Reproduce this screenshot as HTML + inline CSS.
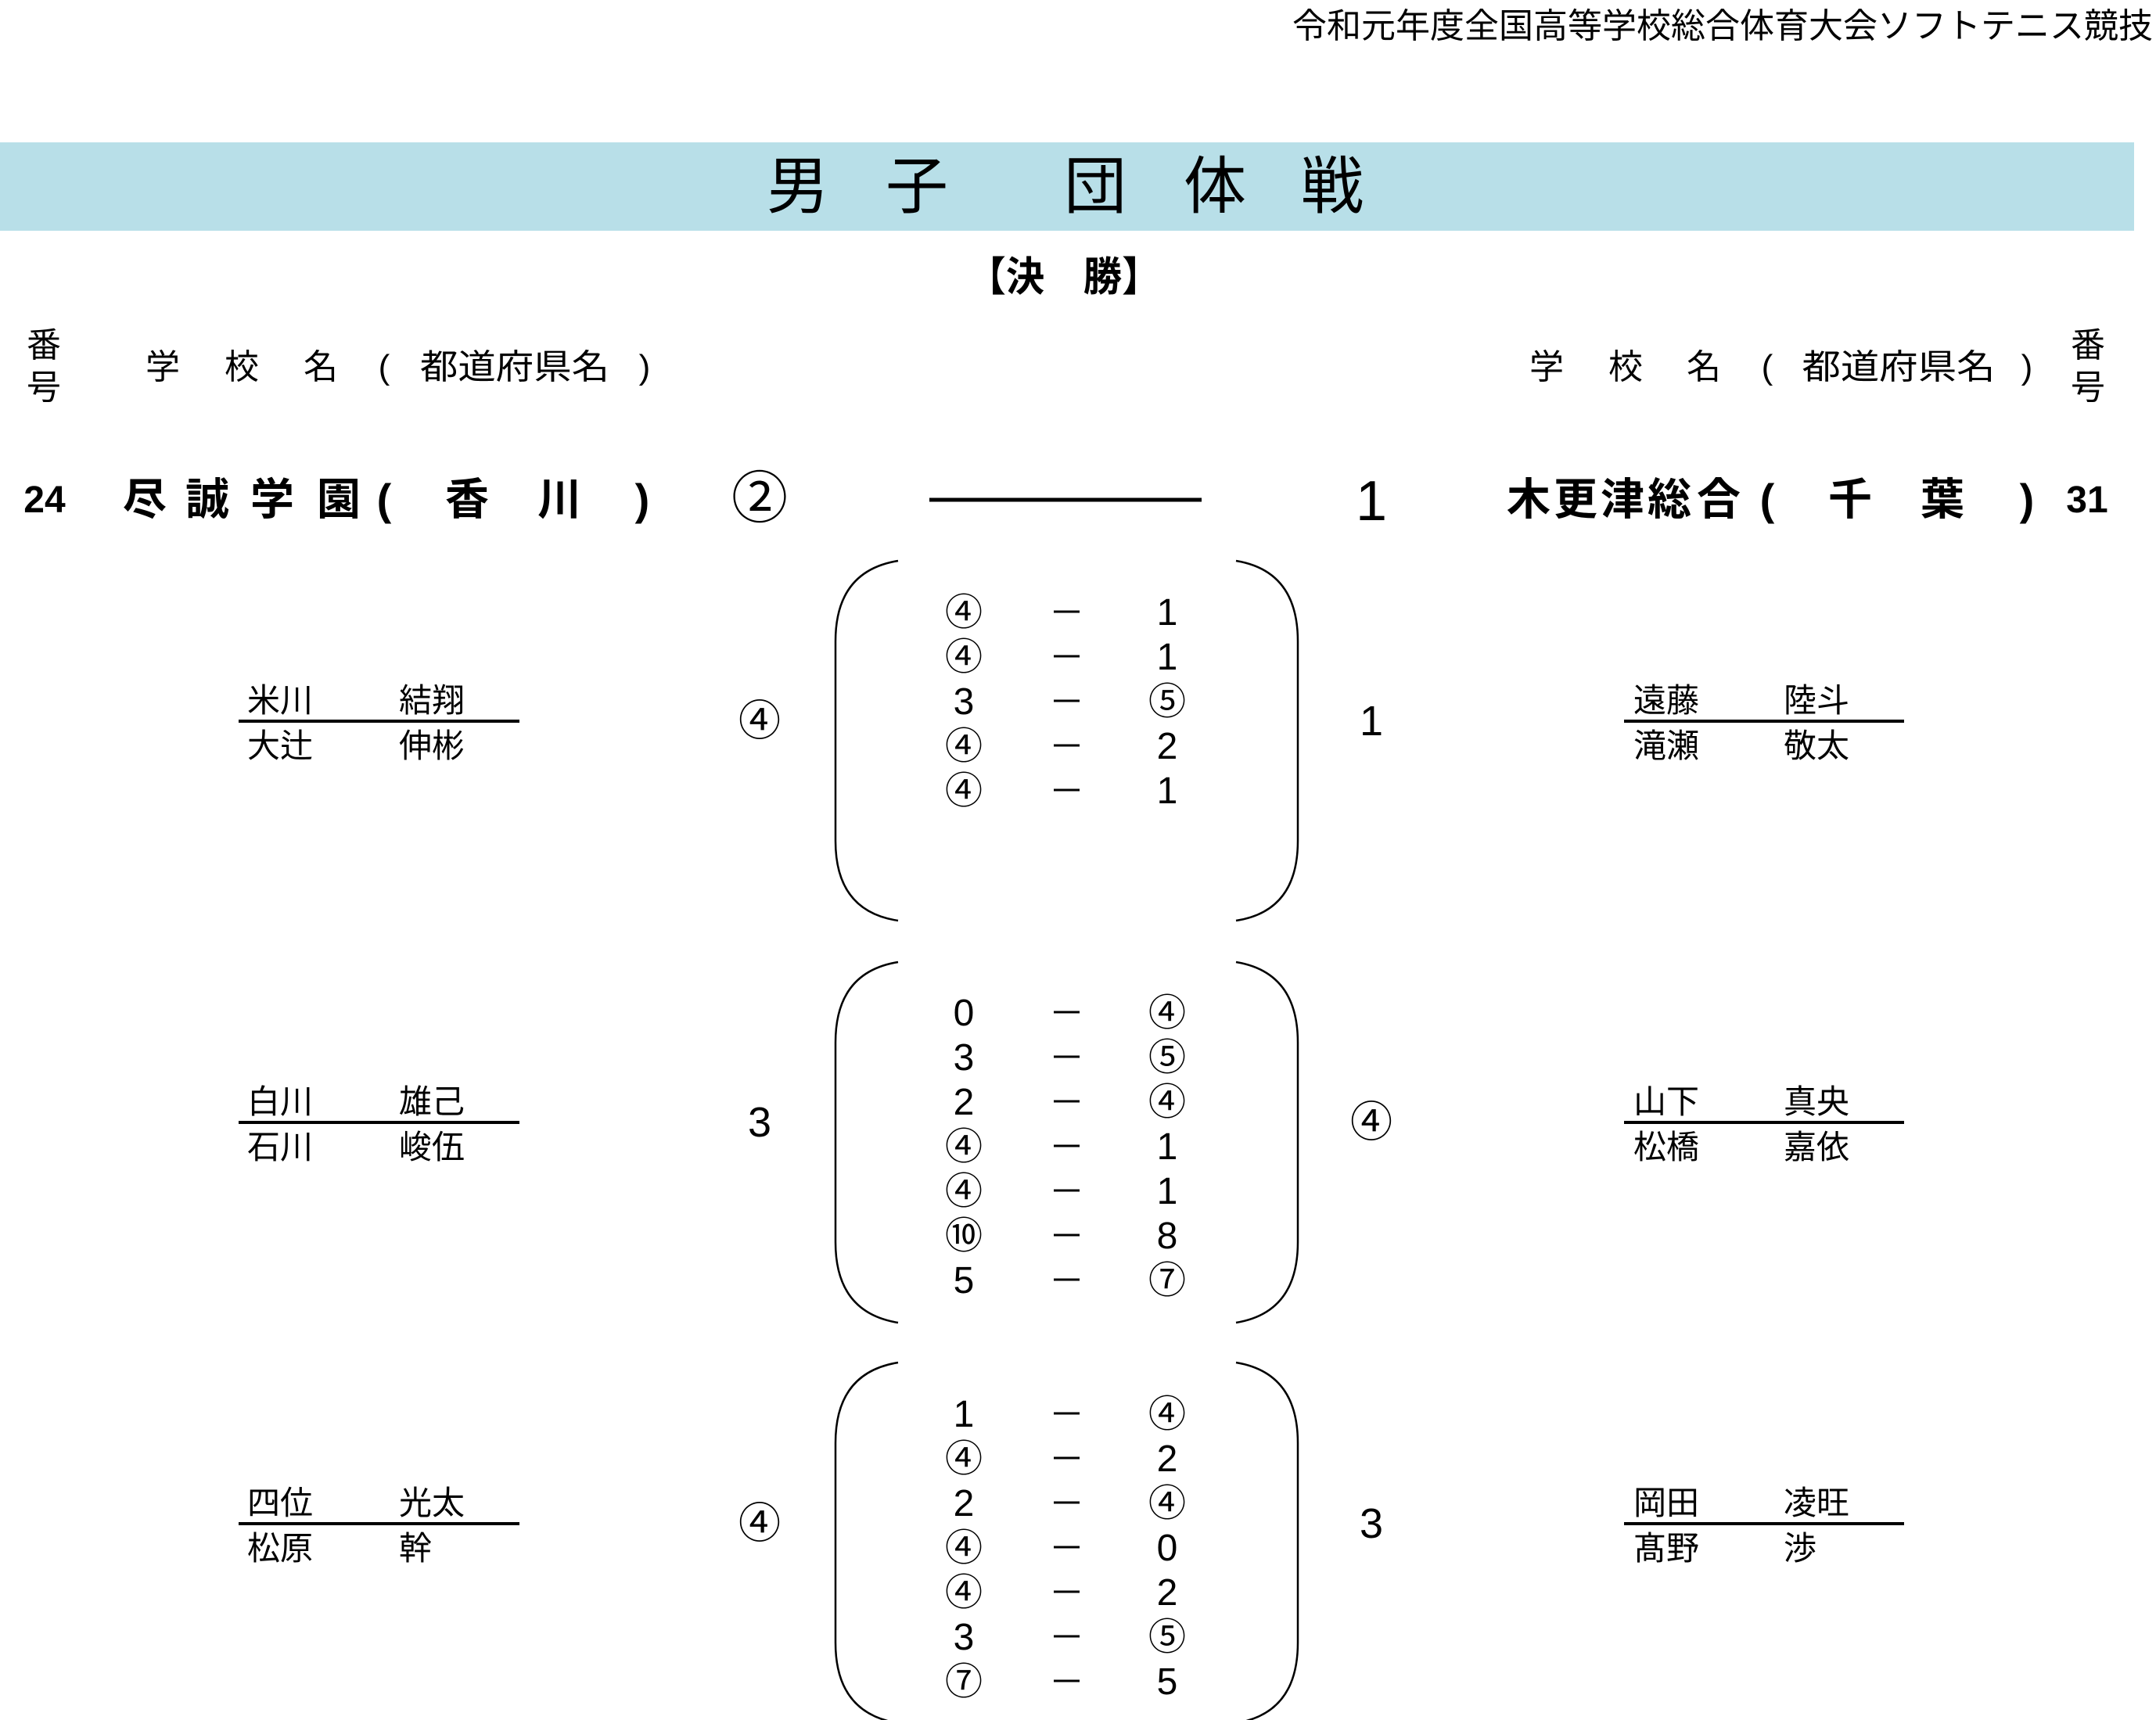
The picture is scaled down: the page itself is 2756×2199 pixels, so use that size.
<!DOCTYPE html>
<html><head><meta charset="utf-8"><style>
html,body{margin:0;padding:0;background:#fff;}
svg{display:block;}
text{font-family:"Liberation Sans","Noto Sans CJK JP",sans-serif;fill:#000;}
.b{font-weight:bold;}
</style></head><body>
<svg width="2756" height="2199" viewBox="0 0 2756 2199" xmlns="http://www.w3.org/2000/svg">
<text x="2752" y="48" font-size="44" text-anchor="end" textLength="1100" lengthAdjust="spacingAndGlyphs">令和元年度全国高等学校総合体育大会ソフトテニス競技</text>
<rect x="0" y="182" width="2728" height="113" fill="#b8dfe8"/>
<g font-size="80" text-anchor="middle">
<text x="1020" y="266">男</text><text x="1172" y="266">子</text><text x="1400" y="266">団</text><text x="1553" y="266">体</text><text x="1703" y="266">戦</text>
</g>
<text x="1360" y="372" font-size="52" class="b" text-anchor="middle" textLength="247" lengthAdjust="spacingAndGlyphs">【決　勝】</text>
<g font-size="44" text-anchor="middle">
<text x="56" y="456">番</text><text x="56" y="510">号</text>
<text x="2669" y="456">番</text><text x="2669" y="510">号</text>
<text x="208" y="484">学</text><text x="309" y="484">校</text><text x="410" y="484">名</text><text x="491" y="484">(</text>
<text x="658" y="484" textLength="242" lengthAdjust="spacingAndGlyphs">都道府県名</text><text x="824" y="484">)</text>
<text x="1977" y="484">学</text><text x="2078" y="484">校</text><text x="2178" y="484">名</text><text x="2259" y="484">(</text>
<text x="2427" y="484" textLength="247" lengthAdjust="spacingAndGlyphs">都道府県名</text><text x="2591" y="484">)</text>
</g>
<g font-size="56" class="b" text-anchor="middle">
<text x="57" y="655" font-size="48">24</text>
<text x="185" y="658">尽</text><text x="265" y="658">誠</text><text x="348" y="658">学</text><text x="433" y="658">園</text><text x="491" y="658">(</text><text x="597" y="658">香</text><text x="715" y="658">川</text><text x="821" y="658">)</text>
<text x="1954" y="658">木</text><text x="2014" y="658">更</text><text x="2074" y="658">津</text><text x="2134" y="658">総</text><text x="2197" y="658">合</text><text x="2259" y="658">(</text><text x="2365" y="658">千</text><text x="2483" y="658">葉</text><text x="2591" y="658">)</text>
<text x="2668" y="655" font-size="48">31</text>
</g>
<g font-size="72" text-anchor="middle">
<text x="971" y="662">②</text><text x="1753" y="665">1</text>
</g>
<line x1="1188" y1="639" x2="1536" y2="639" stroke="#000" stroke-width="5"/>

<g fill="none" stroke="#000" stroke-width="2.5">
<path d="M1148 717 Q1068 730 1068 820 L1068 1075 Q1068 1165 1148 1177"/>
<path d="M1580 717 Q1659 730 1659 820 L1659 1075 Q1659 1165 1580 1177"/>
<path d="M1148 1230 Q1068 1243 1068 1333 L1068 1588 Q1068 1678 1148 1691"/>
<path d="M1580 1230 Q1659 1243 1659 1333 L1659 1588 Q1659 1678 1580 1691"/>
<path d="M1148 1742 Q1068 1755 1068 1845 L1068 2100 Q1068 2190 1148 2203"/>
<path d="M1580 1742 Q1659 1755 1659 1845 L1659 2100 Q1659 2190 1580 2203"/>
</g>

<g font-size="48" text-anchor="middle" stroke="none">
<!-- block 1 -->
<text x="1232" y="799">④</text><text x="1492" y="799">1</text>
<text x="1232" y="856">④</text><text x="1492" y="856">1</text>
<text x="1232" y="913">3</text><text x="1492" y="913">⑤</text>
<text x="1232" y="970">④</text><text x="1492" y="970">2</text>
<text x="1232" y="1027">④</text><text x="1492" y="1027">1</text>
<!-- block 2 -->
<text x="1232" y="1311">0</text><text x="1492" y="1311">④</text>
<text x="1232" y="1368">3</text><text x="1492" y="1368">⑤</text>
<text x="1232" y="1425">2</text><text x="1492" y="1425">④</text>
<text x="1232" y="1482">④</text><text x="1492" y="1482">1</text>
<text x="1232" y="1539">④</text><text x="1492" y="1539">1</text>
<text x="1232" y="1596">⑩</text><text x="1492" y="1596">8</text>
<text x="1232" y="1653">5</text><text x="1492" y="1653">⑦</text>
<!-- block 3 -->
<text x="1232" y="1824">1</text><text x="1492" y="1824">④</text>
<text x="1232" y="1881">④</text><text x="1492" y="1881">2</text>
<text x="1232" y="1938">2</text><text x="1492" y="1938">④</text>
<text x="1232" y="1995">④</text><text x="1492" y="1995">0</text>
<text x="1232" y="2052">④</text><text x="1492" y="2052">2</text>
<text x="1232" y="2109">3</text><text x="1492" y="2109">⑤</text>
<text x="1232" y="2166">⑦</text><text x="1492" y="2166">5</text>
</g>
<g stroke="#000" stroke-width="3">
<line x1="1347" y1="782" x2="1380" y2="782"/><line x1="1347" y1="839" x2="1380" y2="839"/><line x1="1347" y1="896" x2="1380" y2="896"/><line x1="1347" y1="953" x2="1380" y2="953"/><line x1="1347" y1="1010" x2="1380" y2="1010"/>
<line x1="1347" y1="1294" x2="1380" y2="1294"/><line x1="1347" y1="1351" x2="1380" y2="1351"/><line x1="1347" y1="1408" x2="1380" y2="1408"/><line x1="1347" y1="1465" x2="1380" y2="1465"/><line x1="1347" y1="1522" x2="1380" y2="1522"/><line x1="1347" y1="1579" x2="1380" y2="1579"/><line x1="1347" y1="1636" x2="1380" y2="1636"/>
<line x1="1347" y1="1807" x2="1380" y2="1807"/><line x1="1347" y1="1864" x2="1380" y2="1864"/><line x1="1347" y1="1921" x2="1380" y2="1921"/><line x1="1347" y1="1978" x2="1380" y2="1978"/><line x1="1347" y1="2035" x2="1380" y2="2035"/><line x1="1347" y1="2092" x2="1380" y2="2092"/><line x1="1347" y1="2149" x2="1380" y2="2149"/>
</g>

<!-- names & team scores -->
<g stroke="#000" stroke-width="4">
<line x1="305" y1="922" x2="664" y2="922"/><line x1="2076" y1="922" x2="2434" y2="922"/>
<line x1="305" y1="1435" x2="664" y2="1435"/><line x1="2076" y1="1435" x2="2434" y2="1435"/>
<line x1="305" y1="1948" x2="664" y2="1948"/><line x1="2076" y1="1948" x2="2434" y2="1948"/>
</g>
<g font-size="42">
<text x="316" y="910">米川</text><text x="510" y="910">結翔</text>
<text x="316" y="968">大辻</text><text x="510" y="968">伸彬</text>
<text x="2088" y="910">遠藤</text><text x="2280" y="910">陸斗</text>
<text x="2088" y="968">滝瀬</text><text x="2280" y="968">敬太</text>

<text x="316" y="1423">白川</text><text x="510" y="1423">雄己</text>
<text x="316" y="1481">石川</text><text x="510" y="1481">峻伍</text>
<text x="2088" y="1423">山下</text><text x="2280" y="1423">真央</text>
<text x="2088" y="1481">松橋</text><text x="2280" y="1481">嘉依</text>

<text x="316" y="1936">四位</text><text x="510" y="1936">光太</text>
<text x="316" y="1994">松原</text><text x="510" y="1994">幹</text>
<text x="2088" y="1936">岡田</text><text x="2280" y="1936">凌旺</text>
<text x="2088" y="1994">髙野</text><text x="2280" y="1994">渉</text>
</g>
<g font-size="54" text-anchor="middle">
<text x="971" y="940">④</text><text x="1753" y="940">1</text>
<text x="971" y="1453">3</text><text x="1753" y="1453">④</text>
<text x="971" y="1966">④</text><text x="1753" y="1966">3</text>
</g>
</svg>
</body></html>
